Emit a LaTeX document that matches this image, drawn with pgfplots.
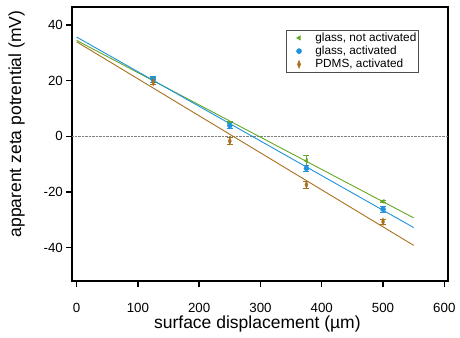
\documentclass[border=0pt]{standalone}
\usepackage{pgfplots}
\pgfplotsset{compat=1.18}
\usepackage{fontspec}
\setmainfont{Liberation Sans}
\definecolor{cgreen}{RGB}{100,168,36}
\definecolor{cblue}{RGB}{30,146,220}
\definecolor{cbrown}{RGB}{168,112,30}
\begin{document}
\begin{tikzpicture}
\begin{axis}[
  name=ax,
  scale only axis, width=376pt, height=274pt,
  xmin=-7.5, xmax=606, ymin=-52, ymax=46.5,
  axis line style={line width=1.8pt},
  xtick={0,100,...,600}, ytick={-40,-20,0,20,40},
  tick align=outside, xtick pos=bottom, ytick pos=left,
  major tick length=6pt, tick style={line width=1.4pt, black},
  /pgf/number format/assume math mode=true,
  ticklabel style={font=\fontsize{13.3}{15}\selectfont},
  xticklabel style={anchor=base, inner sep=0pt, yshift=-26pt},
  yticklabel style={anchor=east, inner sep=0pt, xshift=-3pt},
  xlabel={surface displacement (µm)},
  ylabel={apparent zeta potrential (mV)},
  every axis x label/.style={at={(0.493,0)}, anchor=base, yshift=-48pt, font=\fontsize{17.5}{19}\selectfont},
  every axis y label/.style={at={(0,0.573)}, rotate=90, anchor=center, yshift=55.5pt, font=\fontsize{17.5}{19}\selectfont},
  legend style={at={(0.569,0.916)}, anchor=north west, draw=black!70, line width=0.6pt,
    font=\fontsize{11.8}{13}\selectfont, inner sep=1pt,
    nodes={inner sep=0.5pt, text height=9.2pt, text depth=3pt}},
  legend image code/.code={\path (0pt,0pt) (27pt,0pt); \draw[only marks] plot coordinates {(11.5pt,0pt)};},
  legend cell align=left,
  clip=false,
]
\addplot[densely dotted, gray, thin, forget plot] coordinates {(-7.5,0) (606,0)};
% fit lines
\addplot[cgreen, line width=0.9pt, forget plot] coordinates {(0,34.5) (550,-29.3)};
\addplot[cblue, line width=0.9pt, forget plot] coordinates {(0,35.7) (550,-32.8)};
\addplot[cbrown, line width=0.9pt, forget plot] coordinates {(0,34.0) (550,-39.2)};
% data
\addplot[only marks, cgreen, mark=triangle*, mark size=2.4pt, mark options={rotate=90},
  error bars/.cd, y dir=both, y explicit, error bar style={line width=0.8pt}, error mark options={rotate=90, mark size=3pt, line width=0.8pt}]
  coordinates {(125,20.3) +- (0,1.0) (250,4.6) +- (0,0.8) (375,-8.8) +- (0,1.8) (500,-23.4) +- (0,0.5)};
\addlegendentry{glass, not activated}
\addplot[only marks, cblue, mark=*, mark size=2.5pt,
  error bars/.cd, y dir=both, y explicit, error bar style={line width=0.8pt}, error mark options={rotate=90, mark size=3pt, line width=0.8pt}]
  coordinates {(125,20.5) +- (0,1.2) (250,3.9) +- (0,1.0) (375,-11.5) +- (0,1.0) (500,-26.2) +- (0,1.0)};
\addlegendentry{glass, activated}
\addplot[only marks, cbrown, mark=diamond*, mark size=2pt, mark options={yscale=1.9},
  error bars/.cd, y dir=both, y explicit, error bar style={line width=0.8pt}, error mark options={rotate=90, mark size=3pt, line width=0.8pt}]
  coordinates {(125,19.5) +- (0,0.8) (250,-1.7) +- (0,1.3) (375,-17.4) +- (0,1.3) (500,-30.7) +- (0,1.0)};
\addlegendentry{PDMS, activated}
\end{axis}
\path (ax.south west) ++(-72pt,-57pt) coordinate (bl);
\path (ax.north east) ++(12pt,7pt) coordinate (tr);
\pgfresetboundingbox
\path[use as bounding box] (bl) rectangle (tr);
\end{tikzpicture}
\end{document}
